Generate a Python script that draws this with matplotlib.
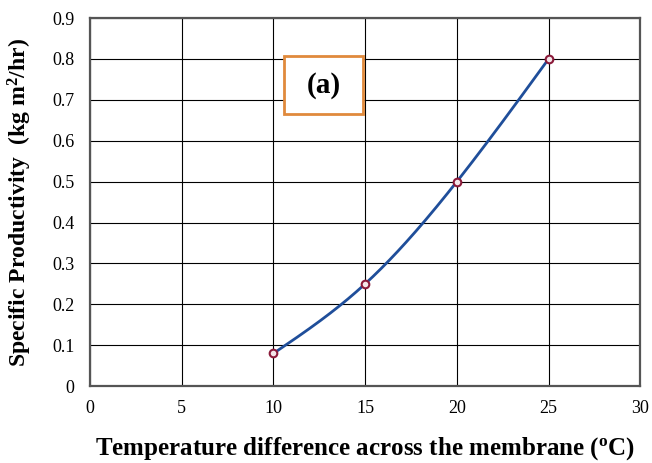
import numpy as np
import matplotlib
matplotlib.use("Agg")
import matplotlib.pyplot as plt
from matplotlib.patches import Rectangle

x_vals = [10, 15, 20, 25]
y_vals = [0.08, 0.25, 0.50, 0.80]
x_ticks = [0, 5, 10, 15, 20, 25, 30]
y_ticks = [0, 0.1, 0.2, 0.3, 0.4, 0.5, 0.6, 0.7, 0.8, 0.9]
y_tick_labels = ["0", "0.1", "0.2", "0.3", "0.4", "0.5", "0.6", "0.7", "0.8", "0.9"]

def natural_spline(xs, ys, n=200):
    xs = np.asarray(xs, float); ys = np.asarray(ys, float)
    k = len(xs); h = np.diff(xs)
    A = np.zeros((k, k)); b = np.zeros(k)
    A[0, 0] = A[-1, -1] = 1
    for i in range(1, k - 1):
        A[i, i - 1] = h[i - 1]; A[i, i] = 2 * (h[i - 1] + h[i]); A[i, i + 1] = h[i]
        b[i] = 6 * ((ys[i + 1] - ys[i]) / h[i] - (ys[i] - ys[i - 1]) / h[i - 1])
    M = np.linalg.solve(A, b)
    xx = np.linspace(xs[0], xs[-1], n); yy = np.empty_like(xx)
    for j, t in enumerate(xx):
        i = min(np.searchsorted(xs, t, side="right") - 1, k - 2)
        a, c = xs[i], xs[i + 1]; hi = c - a
        yy[j] = (M[i] * (c - t) ** 3 / (6 * hi) + M[i + 1] * (t - a) ** 3 / (6 * hi)
                 + (ys[i] / hi - M[i] * hi / 6) * (c - t) + (ys[i + 1] / hi - M[i + 1] * hi / 6) * (t - a))
    return xx, yy

plt.rcParams['font.family'] = ['Liberation Serif', 'DejaVu Serif']

fig = plt.figure(figsize=(6.52, 4.63), dpi=100)
ax = fig.add_axes([0.138, 0.166, 0.844, 0.795])

xx, yy = natural_spline(x_vals, y_vals)
ax.plot(xx, yy, color="#1F4E9A", lw=2, zorder=3)
ax.plot(x_vals, y_vals, 'o', ms=5.5, mec="#8B1A3A", mfc="#F4E6EA", mew=1.5, zorder=4)

ax.set_xlim(0, 30); ax.set_ylim(0, 0.9)
ax.set_xticks(x_ticks)
ax.set_yticks(y_ticks); ax.set_yticklabels(y_tick_labels)
ax.grid(True, color="black", lw=0.8)
ax.set_axisbelow(True)
ax.tick_params(axis="x", length=0, labelsize=13, pad=10)
ax.tick_params(axis="y", length=0, labelsize=13, pad=11)
for s in ax.spines.values():
    s.set_color("#555555"); s.set_linewidth(1.6)

ax.set_xlabel("Temperature difference across the membrane ($\\mathregular{^o}$C)",
              fontsize=18, fontweight="bold", labelpad=13)
ax.set_ylabel("Specific Productivity  (kg m$\\mathregular{^2}$/hr)",
              fontsize=17, fontweight="bold", labelpad=13)

ax.add_patch(Rectangle((10.6, 0.665), 4.3, 0.142, fill=True, facecolor="white",
                       edgecolor="#E08A3C", lw=2, zorder=5))
ax.text(12.75, 0.736, "(a)", fontsize=21, fontweight="bold", ha="center", va="center", zorder=6)

fig.savefig("out.png", dpi=100)
